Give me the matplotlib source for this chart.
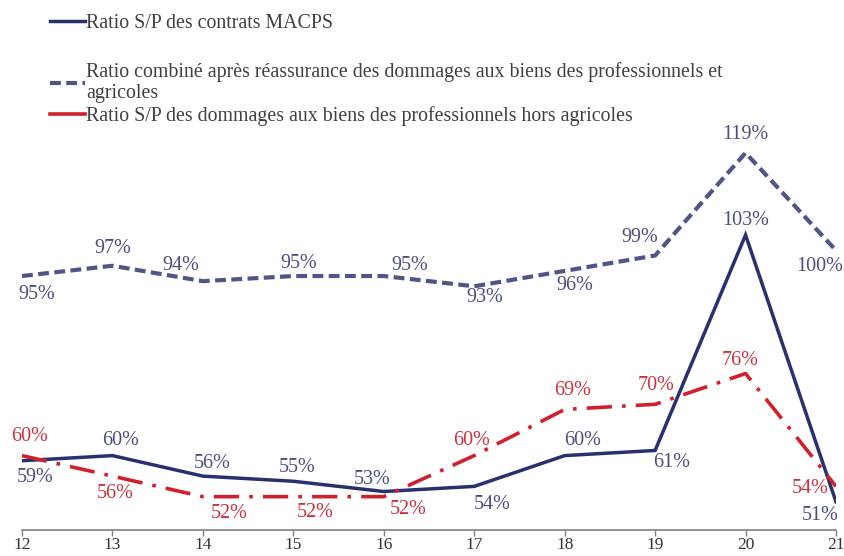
import matplotlib.pyplot as plt
from matplotlib.lines import Line2D

# data
years = [12, 13, 14, 15, 16, 17, 18, 19, 20, 21]
sp_macps = [59, 60, 56, 55, 53, 54, 60, 61, 103, 51]
combine_pro_agri = [95, 97, 94, 95, 95, 93, 96, 99, 119, 100]
sp_pro_hors_agri = [60, 56, 52, 52, 52, 60, 69, 70, 76, 54]

lab_macps = "Ratio S/P des contrats MACPS"
lab_combine = ("Ratio combiné après réassurance des dommages aux biens des professionnels et\n"
               "agricoles")
lab_hors = "Ratio S/P des dommages aux biens des professionnels hors agricoles"

# label offsets in pixels (dx, dy), one per point
off_macps = [(13, -17), (8, 15), (9, 13), (4, 14), (-12, 12), (18, -18), (18, 15), (17, -12), (0, 14), (-16, -14)]
off_combine = [(15, -18), (0, 17), (-22, 16), (5, 13), (26, 11), (11, -11), (10, -15), (-15, 18), (0, 18), (-16, -16)]
off_hors = [(8, 19), (3, -17), (26, -17), (22, -16), (24, -13), (-3, 15), (8, 19), (1, 19), (-5, 13), (-26, -2)]

navy = '#28306e'
dash_col = '#4f5585'
red = '#d0202e'
navy_txt = '#4b4f7e'
red_txt = '#c8333f'

plt.rcParams['font.family'] = ['Liberation Serif', 'DejaVu Serif']

fig = plt.figure(figsize=(8.45, 5.56), dpi=100)
ax = fig.add_axes([22 / 845, 26 / 556, 814 / 845, 530 / 556])

l1, = ax.plot(years, sp_macps, color=navy, lw=2.5, solid_joinstyle='miter')
l2, = ax.plot(years, combine_pro_agri, color=dash_col, lw=3, linestyle=(0, (2.6, 1.3)))
l3, = ax.plot(years, sp_pro_hors_agri, color=red, lw=2.6, linestyle=(0, (7, 2.8, 1, 2.8)))

def put_labels(xs, ys, offs, col):
    for x, y, (dx, dy) in zip(xs, ys, offs):
        ax.annotate(f"{y}%", (x, y), xytext=(dx * 0.72, dy * 0.72), textcoords='offset points',
                    ha='center', va='center', fontsize=14.5, color=col)

put_labels(years, combine_pro_agri, off_combine, navy_txt)
put_labels(years, sp_macps, off_macps, navy_txt)
put_labels(years, sp_pro_hors_agri, off_hors, red_txt)

ax.set_xlim(12, 21)
ax.set_ylim(45.5, 148.8)
ax.set_xticks(years)
ax.set_yticks([])
for s in ['top', 'right', 'left']:
    ax.spines[s].set_visible(False)
ax.spines['bottom'].set_color('#808080')
ax.spines['bottom'].set_linewidth(1.2)
ax.tick_params(axis='x', direction='out', length=4, width=1, color='#808080',
               labelsize=12.5, labelcolor='#333333', pad=1)
ax.patch.set_alpha(0)

leg_kw = dict(loc='upper left', frameon=False, fontsize=14.3, handlelength=1.8,
              handletextpad=0.05, labelcolor='#404040', borderaxespad=0.3)
leg1 = ax.legend([l1], [lab_macps], bbox_to_anchor=(0.017, 1.0), **leg_kw)
ax.add_artist(leg1)
red_handle = Line2D([], [], color=red, lw=2.6)
ax.legend([l2, red_handle], [lab_combine, lab_hors], bbox_to_anchor=(0.017, 0.91),
          labelspacing=0.15, **leg_kw)

fig.savefig('out.png', dpi=100)
